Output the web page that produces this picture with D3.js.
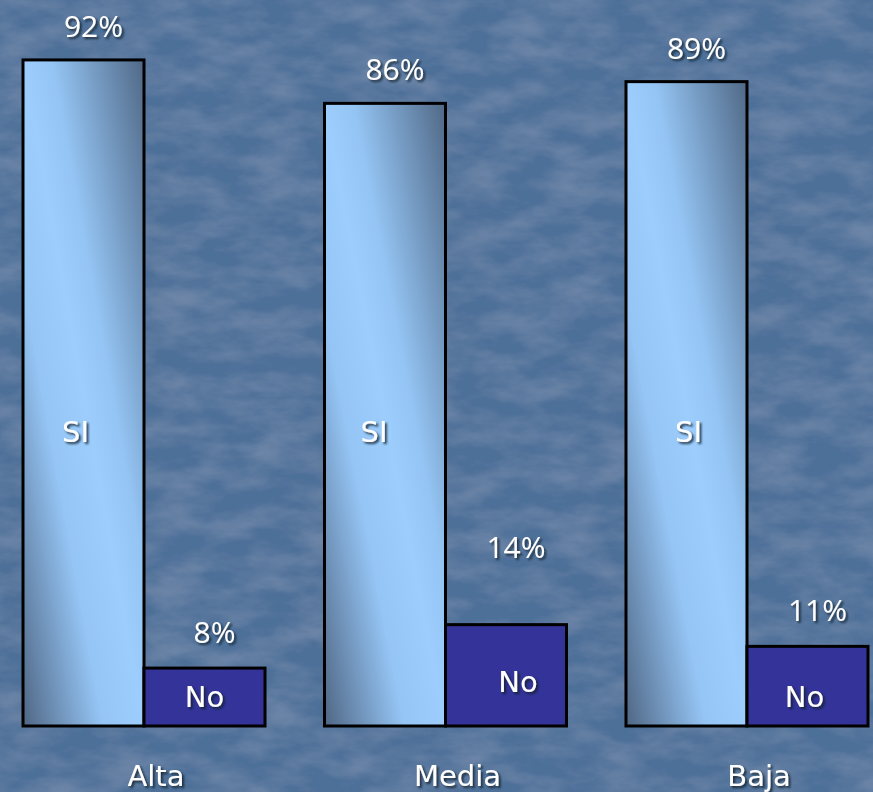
<!DOCTYPE html>
<html><head><meta charset="utf-8">
<script src="https://cdn.jsdelivr.net/npm/d3@7"></script>
<style>html,body{margin:0;padding:0;background:#52749e;}svg{display:block}</style>
</head><body>
<script>
const categories = ["Alta", "Media", "Baja"];
const series = ["SI", "No"];
const siValues = [92, 86, 89];
const noValues = [8, 14, 11];
const barLabels = ["SI", "No"];

const W = 873, H = 792;
const svg = d3.select("body").append("svg").attr("width", W).attr("height", H);
const defs = svg.append("defs");

// subtle background texture
const f = defs.append("filter").attr("id","tex").attr("x",0).attr("y",0).attr("width","100%").attr("height","100%");
f.append("feTurbulence").attr("type","fractalNoise").attr("baseFrequency","0.02 0.045").attr("numOctaves",4).attr("seed",7).attr("result","n");
f.append("feColorMatrix").attr("in","n").attr("type","matrix")
  .attr("values","0 0 0 0 0.8  0 0 0 0 0.88  0 0 0 0 1  0.2 0 0 0 -0.07").attr("result","c");
f.append("feComposite").attr("in","c").attr("in2","SourceGraphic").attr("operator","over");
svg.append("rect").attr("width",W).attr("height",H).attr("fill","#4e7099").attr("filter","url(#tex)");

const g1 = defs.append("linearGradient").attr("id","siGrad")
  .attr("x1",0).attr("y1",1).attr("x2",1).attr("y2",0);
[[0,"#4f6684"],[0.33,"#95c5f5"],[0.5,"#9ccdfd"],[0.62,"#94c4f3"],[1,"#506886"]].forEach(s=>
  g1.append("stop").attr("offset",s[0]).attr("stop-color",s[1]));

const sh = defs.append("filter").attr("id","shadow").attr("x","-20%").attr("y","-20%").attr("width","150%").attr("height","150%");
sh.append("feDropShadow").attr("dx",2).attr("dy",2).attr("stdDeviation",0.8).attr("flood-color","#0e1a2c").attr("flood-opacity",0.85);

const x0 = d3.scaleBand().domain(categories).range([23, 868]).paddingInner(0.1973).paddingOuter(0).align(0);
const x1 = d3.scaleBand().domain(series).range([0, x0.bandwidth()]);
const y = d3.scaleLinear().domain([0, 100]).range([726, 2]);

const data = categories.map((c,i)=>({cat:c, vals:[{s:"SI",v:siValues[i]},{s:"No",v:noValues[i]}]}));

const groups = svg.selectAll("g.grp").data(data).join("g").attr("class","grp")
  .attr("transform", d=>`translate(${x0(d.cat)},0)`);

groups.selectAll("rect").data(d=>d.vals).join("rect")
  .attr("x", d=>x1(d.s)).attr("width", x1.bandwidth())
  .attr("y", d=>y(d.v)).attr("height", d=>y(0)-y(d.v))
  .attr("fill", d=>d.s==="SI" ? "url(#siGrad)" : "#333399")
  .attr("stroke","#000").attr("stroke-width",3);

// value labels
const extraLift = {"Media|No": 42};
groups.selectAll("text.val").data(d=>d.vals.map(v=>({...v,cat:d.cat}))).join("text").attr("class","val")
  .attr("x", d=>x1(d.s)+x1.bandwidth()/2+10)
  .attr("y", d=>y(d.v)-(d.s==="SI"?23:25)-(extraLift[d.cat+"|"+d.s]||0))
  .attr("text-anchor","middle").attr("fill","#fff")
  .attr("font-family","'Open Sans', sans-serif").attr("font-size",30)
  .attr("filter","url(#shadow)")
  .text(d=>d.v+"%");

// inside labels
const siDx = {Alta:-8, Media:-11, Baja:2};
const noDx = {Alta:0, Media:12, Baja:-3};
const noBase = {Alta:707, Media:692, Baja:707};
groups.append("text")
  .attr("x", d=>x1("SI")+x1.bandwidth()/2+siDx[d.cat]).attr("y", 442)
  .attr("text-anchor","middle").attr("fill","#fff")
  .attr("font-family","'DejaVu Sans', sans-serif").attr("font-size",29)
  .attr("filter","url(#shadow)").text(barLabels[0]);
groups.append("text")
  .attr("x", d=>x1("No")+x1.bandwidth()/2+noDx[d.cat]).attr("y", d=>noBase[d.cat])
  .attr("text-anchor","middle").attr("fill","#fff")
  .attr("font-family","'DejaVu Sans', sans-serif").attr("font-size",29)
  .attr("filter","url(#shadow)").text(barLabels[1]);

// category labels
svg.selectAll("text.cat").data(categories).join("text").attr("class","cat")
  .attr("x", d=>x0(d)+x0.bandwidth()/2+12).attr("y", 786)
  .attr("text-anchor","middle").attr("fill","#fff")
  .attr("font-family","'DejaVu Sans', sans-serif").attr("font-size",29)
  .attr("filter","url(#shadow)").text(d=>d);
</script>
</body></html>
